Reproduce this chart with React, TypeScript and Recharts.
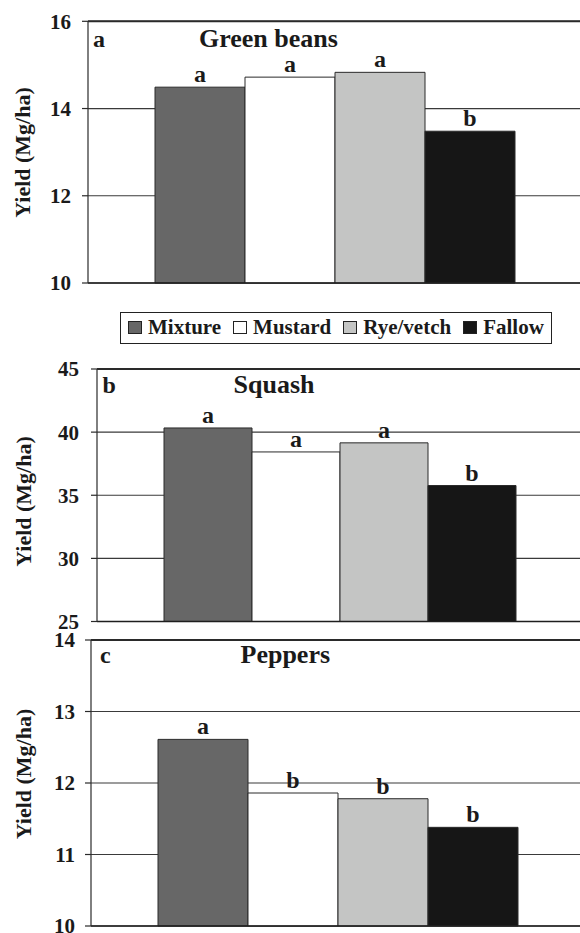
import React from 'react';
import { BarChart, Bar, XAxis, YAxis, CartesianGrid, ReferenceLine, LabelList } from 'recharts';

const FONT = "Liberation Serif, DejaVu Serif, serif";

const categories = ['Mixture', 'Mustard', 'Rye/vetch', 'Fallow'];
const colors = ['#676767', '#ffffff', '#c4c5c4', '#161616'];

const beanValues = [14.49, 14.72, 14.83, 13.48];
const beanLetters = ['a', 'a', 'a', 'b'];
const beanTicks = [10, 12, 14, 16];

const squashValues = [40.33, 38.43, 39.15, 35.77];
const squashLetters = ['a', 'a', 'a', 'b'];
const squashTicks = [25, 30, 35, 40, 45];

const pepperValues = [12.61, 11.86, 11.78, 11.38];
const pepperLetters = ['a', 'b', 'b', 'b'];
const pepperTicks = [10, 11, 12, 13, 14];

const buildRow = (values: number[], letters: string[]) => {
  const row: Record<string, any> = { name: 'crop' };
  values.forEach((v, i) => {
    row[`s${i}`] = v;
    row[`l${i}`] = letters[i];
  });
  return [row];
};

type PanelProps = {
  values: number[];
  letters: string[];
  ticks: number[];
  top: number;
  width: number;
  height: number;
  marginTop: number;
  yAxisWidth: number;
  barSize: number;
  tickMargin: number;
};

function Panel(p: PanelProps) {
  const data = buildRow(p.values, p.letters);
  const min = p.ticks[0];
  const max = p.ticks[p.ticks.length - 1];
  return (
    <div style={{ position: 'absolute', left: 0, top: p.top }}>
      <BarChart
        width={p.width}
        height={p.height}
        data={data}
        margin={{ top: p.marginTop, right: 0, left: 0, bottom: 0 }}
        barGap={0}
      >
        <CartesianGrid vertical={false} stroke="#3a3a3a" strokeWidth={1.2} />
        <ReferenceLine y={max} stroke="#2a2a2a" strokeWidth={2} />
        <XAxis
          dataKey="name"
          tick={false}
          tickLine={false}
          axisLine={{ stroke: '#1e1e1e', strokeWidth: 1.5 }}
          height={14}
        />
        <YAxis
          type="number"
          domain={[min, max]}
          ticks={p.ticks}
          interval={0}
          width={p.yAxisWidth}
          tickSize={6}
          tickMargin={p.tickMargin}
          axisLine={{ stroke: '#2a2a2a', strokeWidth: 1.2 }}
          tickLine={{ stroke: '#2a2a2a', strokeWidth: 1.2 }}
          tick={{ fontFamily: FONT, fontWeight: 'bold', fontSize: 21, fill: '#1a1a1a' }}
        />
        {categories.map((c, i) => (
          <Bar
            key={c}
            dataKey={`s${i}`}
            name={c}
            fill={colors[i]}
            stroke="#2a2a2a"
            strokeWidth={1}
            barSize={p.barSize}
            isAnimationActive={false}
          >
            <LabelList
              dataKey={`l${i}`}
              position="top"
              offset={5}
              style={{ fontFamily: FONT, fontWeight: 'bold', fontSize: 24, fill: '#1a1a1a' }}
            />
          </Bar>
        ))}
      </BarChart>
    </div>
  );
}

function Legend() {
  return (
    <div
      style={{
        position: 'absolute',
        left: 120,
        top: 311.5,
        width: 432,
        height: 32,
        boxSizing: 'border-box',
        border: '1px solid #222',
        display: 'flex',
        alignItems: 'center',
        paddingLeft: 7,
        fontFamily: FONT,
        fontWeight: 'bold',
        fontSize: 21,
        color: '#1a1a1a',
        lineHeight: 1,
        background: '#fff',
        whiteSpace: 'nowrap',
      }}
    >
      {categories.map((c, i) => (
        <React.Fragment key={c}>
          <span
            style={{
              display: 'inline-block',
              width: 14,
              height: 13,
              boxSizing: 'border-box',
              border: '1px solid #222',
              background: colors[i],
              marginRight: 6,
              flex: 'none',
            }}
          />
          <span style={{ marginRight: i < categories.length - 1 ? 12 : 0 }}>{c}</span>
        </React.Fragment>
      ))}
    </div>
  );
}

const textStyle = { fontFamily: FONT, fontWeight: 'bold' as const, fill: '#1a1a1a' };

export default function App() {
  return (
    <div
      style={{
        position: 'absolute',
        left: 0,
        top: 0,
        width: 580,
        height: 933,
        overflow: 'hidden',
        background: '#fff',
      }}
    >
      <Panel
        values={beanValues}
        letters={beanLetters}
        ticks={beanTicks}
        top={0}
        width={581}
        height={297}
        marginTop={21.3}
        yAxisWidth={88}
        barSize={90}
        tickMargin={11}
      />
      <Legend />
      <Panel
        values={squashValues}
        letters={squashLetters}
        ticks={squashTicks}
        top={340}
        width={583}
        height={295.5}
        marginTop={29}
        yAxisWidth={97}
        barSize={88}
        tickMargin={12}
      />
      <Panel
        values={pepperValues}
        letters={pepperLetters}
        ticks={pepperTicks}
        top={620}
        width={584}
        height={320}
        marginTop={20}
        yAxisWidth={91}
        barSize={90}
        tickMargin={10}
      />
      <svg
        width={580}
        height={933}
        style={{ position: 'absolute', left: 0, top: 0, pointerEvents: 'none' }}
      >
        <text x={93} y={46.5} fontSize={24} {...textStyle}>a</text>
        <text x={199} y={46.5} fontSize={26} {...textStyle}>Green beans</text>
        <text x={102.5} y={393} fontSize={24} {...textStyle}>b</text>
        <text x={233.5} y={393} fontSize={26} {...textStyle}>Squash</text>
        <text x={100} y={663} fontSize={24} {...textStyle}>c</text>
        <text x={240.5} y={663} fontSize={26} {...textStyle}>Peppers</text>
        <text x={30} y={152.5} fontSize={22} textAnchor="middle" transform="rotate(-90 30 152.5)" {...textStyle}>Yield (Mg/ha)</text>
        <text x={31} y={501.5} fontSize={22} textAnchor="middle" transform="rotate(-90 31 501.5)" {...textStyle}>Yield (Mg/ha)</text>
        <text x={30.5} y={774} fontSize={22} textAnchor="middle" transform="rotate(-90 30.5 774)" {...textStyle}>Yield (Mg/ha)</text>
      </svg>
    </div>
  );
}
